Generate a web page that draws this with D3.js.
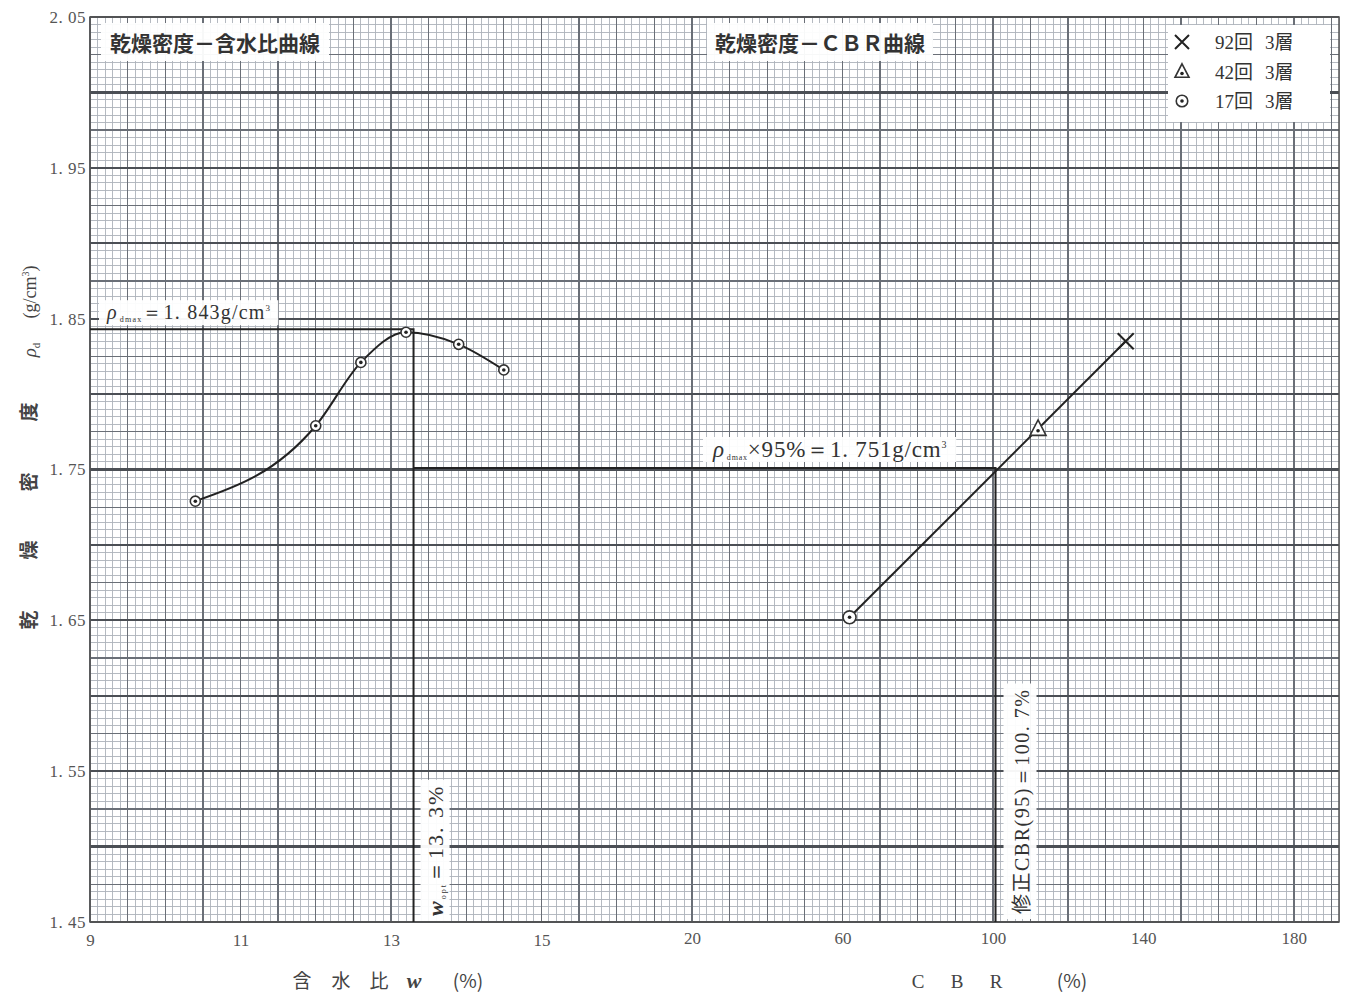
<!DOCTYPE html>
<html>
<head>
<meta charset="utf-8">
<script src="https://cdn.jsdelivr.net/npm/d3@7"></script>
<style>
    body { margin: 0; background: #fff; }
    svg { display: block; }
</style>
</head>
<body>
<svg id="chart" width="1348" height="993"></svg>
<script>
// compaction test: dry density vs water content
const waterContent = [10.4, 12.0, 12.6, 13.2, 13.9, 14.5];
const dryDensity = [1.729, 1.779, 1.821, 1.841, 1.833, 1.816];

// CBR test, one specimen for each compaction effort
const cbrSpecimens = ['92回 3層', '42回 3層', '17回 3層'];
const cbrMarkers = ['cross', 'triangle', 'circle'];
const cbrValues = [135.3, 112.0, 61.9];
const cbrDensity = [1.835, 1.777, 1.652];

// results
const rhoMax = 1.843;
const wOpt = 13.3;
const rho95 = 1.751;
const cbr95 = 100.7;

// tick labels
const yTicks = [1.45, 1.55, 1.65, 1.75, 1.85, 1.95, 2.05];
const wTicks = [9, 11, 13, 15];
const cbrTicks = [20, 60, 100, 140, 180];

const CJK = '"Noto Sans CJK JP", sans-serif';
const SERIF = '"Liberation Serif", "DejaVu Serif", serif';
const INK = '#222';

const margin = {top: 17, right: 9, bottom: 71, left: 90};
const svg = d3.select('#chart');
const width = +svg.attr('width') - margin.left - margin.right;
const height = +svg.attr('height') - margin.top - margin.bottom;

const ctx = svg.append('g')
    .attr('transform', 'translate(' + margin.left + ',' + margin.top + ')');

// one sheet of graph paper, water content and CBR share it
const x = d3.scaleLinear().domain([9, 25.6]).range([0, width]);
const y = d3.scaleLinear().domain([1.45, 2.05]).range([height, 0]);
const cbr = d3.scaleLinear().domain([20, 180]).range([x(17), x(25)]);

// graph paper grid: 1 mm lines, 5 mm lines, heavy lines every 0.05
const vLines = d3.range(0, 167).map(i => ({v: 9 + i * 0.1, k: i % 5 === 0 ? 'mid' : 'fine'}));
const hLines = d3.range(0, 121).map(i => ({v: 1.45 + i * 0.005, k: i % 10 === 0 ? 'heavy' : (i % 5 === 0 ? 'mid' : 'fine')}));
const gridStyle = {
    fine: {stroke: '#adb2ba', w: 0.9},
    mid: {stroke: '#6a6f77', w: 1.3},
    heavy: {stroke: '#4b4f55', w: 2.2}
};

['fine', 'mid', 'heavy'].forEach(k => {
    const vs = vLines.filter(d => d.k === k && x(d.v) <= width);
    const hs = hLines.filter(d => d.k === k);
    const g = ctx.append('g').attr('class', 'grid ' + k);
    g.selectAll('line.v').data(vs).join('line')
        .attr('class', 'v')
        .attr('x1', d => x(d.v)).attr('x2', d => x(d.v))
        .attr('y1', 0).attr('y2', height);
    g.selectAll('line.h').data(hs).join('line')
        .attr('class', 'h')
        .attr('x1', 0).attr('x2', width)
        .attr('y1', d => y(d.v)).attr('y2', d => y(d.v));
    g.selectAll('line')
        .attr('stroke', gridStyle[k].stroke)
        .attr('stroke-width', gridStyle[k].w)
        .attr('shape-rendering', 'crispEdges');
});

ctx.append('rect')
    .attr('width', width).attr('height', height)
    .attr('fill', 'none').attr('stroke', '#555').attr('stroke-width', 1.5);

// axes (labels only, the paper is the grid)
const yAxis = d3.axisLeft(y).tickValues(yTicks).tickSize(0).tickPadding(4)
    .tickFormat(d => d3.format('.2f')(d).replace('.', '. '));
ctx.append('g').attr('class', 'y axis').call(yAxis);

const wAxis = d3.axisBottom(x).tickValues(wTicks).tickSize(0).tickPadding(12);
ctx.append('g').attr('class', 'x axis')
    .attr('transform', 'translate(0,' + height + ')').call(wAxis);

const cAxis = d3.axisBottom(cbr).tickValues(cbrTicks).tickSize(0).tickPadding(10);
ctx.append('g').attr('class', 'x axis')
    .attr('transform', 'translate(0,' + height + ')').call(cAxis);

ctx.selectAll('.axis .domain').remove();
ctx.selectAll('.axis text')
    .attr('font-family', SERIF).attr('font-size', 17).attr('fill', '#555');
ctx.selectAll('.y.axis text').attr('letter-spacing', 0.5);

// helper: white label box behind a text node (same coordinate system)
function boxed(textSel, padX, padY) {
    const b = textSel.node().getBBox();
    textSel.node().parentNode.insertBefore(
        d3.create('svg:rect')
            .attr('x', b.x - padX).attr('y', b.y - padY)
            .attr('width', b.width + padX * 2).attr('height', b.height + padY * 2)
            .attr('fill', '#fff').attr('fill-opacity', 0.95)
            .node(),
        textSel.node());
}

// markers
function marker(g, type, cx, cy, s) {
    if (type === 'cross') {
        g.append('path')
            .attr('d', `M${cx - s},${cy - s}L${cx + s},${cy + s}M${cx - s},${cy + s}L${cx + s},${cy - s}`)
            .attr('stroke', INK).attr('stroke-width', 2).attr('fill', 'none');
    } else if (type === 'triangle') {
        const h = s * 1.1;
        g.append('path')
            .attr('d', `M${cx},${cy - h}L${cx + s},${cy + h * 0.75}L${cx - s},${cy + h * 0.75}Z`)
            .attr('fill', '#fff').attr('stroke', '#333').attr('stroke-width', 1.6);
        g.append('circle').attr('cx', cx).attr('cy', cy + 2).attr('r', 1.8).attr('fill', INK);
    } else {
        g.append('circle').attr('cx', cx).attr('cy', cy).attr('r', s * 0.72)
            .attr('fill', '#fff').attr('stroke', '#333').attr('stroke-width', 1.6);
        g.append('circle').attr('cx', cx).attr('cy', cy).attr('r', 1.8).attr('fill', INK);
    }
}

// reference lines: rho_dmax / w_opt, then 95 % density to CBR
ctx.append('path')
    .attr('d', `M0,${y(rhoMax)}H${x(wOpt)}V${height}`)
    .attr('fill', 'none').attr('stroke', INK).attr('stroke-width', 2);
ctx.append('path')
    .attr('d', `M${x(wOpt)},${y(rho95)}H${cbr(cbr95)}V${height}`)
    .attr('fill', 'none').attr('stroke', INK).attr('stroke-width', 2);

// compaction curve
const pts = waterContent.map((w, i) => [w, dryDensity[i]]);
const curve = d3.line()
    .x(d => x(d[0])).y(d => y(d[1]))
    .curve(d3.curveMonotoneX);
ctx.append('path').attr('d', curve(pts))
    .attr('fill', 'none').attr('stroke', INK).attr('stroke-width', 2);
const mk = ctx.append('g');
pts.forEach(d => marker(mk, 'circle', x(d[0]), y(d[1]), 7));

// density - CBR line through the three specimens
const cbrPts = cbrValues.map((c, i) => ({c: c, r: cbrDensity[i], m: cbrMarkers[i]}))
    .sort((a, b) => a.c - b.c);
ctx.append('path')
    .attr('d', d3.line().x(d => cbr(d.c)).y(d => y(d.r))([cbrPts[0], cbrPts[cbrPts.length - 1]]))
    .attr('fill', 'none').attr('stroke', INK).attr('stroke-width', 2);
const mk2 = ctx.append('g');
cbrPts.forEach(d => marker(mk2, d.m, cbr(d.c), y(d.r), d.m === 'circle' ? 9 : 8));

// annotations
const ann = ctx.append('g');

const t1 = ann.append('text')
    .attr('x', 125).attr('y', 34).attr('text-anchor', 'middle')
    .attr('font-family', CJK).attr('font-size', 21).attr('font-weight', 'bold').attr('fill', '#333')
    .text('乾燥密度－含水比曲線');
boxed(t1, 9, 4);

const t2 = ann.append('text')
    .attr('x', 730).attr('y', 34).attr('text-anchor', 'middle')
    .attr('font-family', CJK).attr('font-size', 21).attr('font-weight', 'bold').attr('fill', '#333')
    .text('乾燥密度－ＣＢＲ曲線');
boxed(t2, 8, 4);

const t3 = ann.append('text')
    .attr('x', 17).attr('y', y(rhoMax) - 10)
    .attr('font-family', SERIF).attr('font-size', 20).attr('letter-spacing', 1.2).attr('fill', '#333');
t3.append('tspan').attr('font-style', 'italic').text('ρ');
t3.append('tspan').attr('font-size', 8).attr('dy', 3).attr('dx', 2).text('dmax');
t3.append('tspan').attr('dy', -3).text('＝1. 843g/cm');
t3.append('tspan').attr('font-size', 9).attr('dy', -8).text('3');
boxed(t3, 7, 1);

const t4 = ann.append('text')
    .attr('x', 623).attr('y', y(rho95) - 11)
    .attr('font-family', SERIF).attr('font-size', 23).attr('letter-spacing', 0.8).attr('fill', '#333');
t4.append('tspan').attr('font-style', 'italic').text('ρ');
t4.append('tspan').attr('font-size', 8).attr('dy', 3).attr('dx', 2).text('dmax');
t4.append('tspan').attr('dy', -3).text('×95%＝1. 751g/cm');
t4.append('tspan').attr('font-size', 10).attr('dy', -9).text('3');
boxed(t4, 9, 0);

// vertical labels, reading bottom to top
const g5 = ann.append('g')
    .attr('transform', `translate(${x(wOpt) + 29},${height - 6}) rotate(-90)`);
const t5 = g5.append('text')
    .attr('font-family', SERIF).attr('font-size', 22).attr('letter-spacing', 2).attr('fill', '#333');
t5.append('tspan').attr('font-style', 'italic').attr('font-weight', 'bold').text('w');
t5.append('tspan').attr('font-size', 8).attr('dy', 3).text('opt');
t5.append('tspan').attr('dy', -3).text('＝13. 3%');
boxed(t5, 5, 2);

const g6 = ann.append('g')
    .attr('transform', `translate(${cbr(cbr95) + 33},${height - 8}) rotate(-90)`);
const t6 = g6.append('text')
    .attr('font-family', SERIF).attr('font-size', 20).attr('letter-spacing', 1.5).attr('fill', '#333');
t6.append('tspan').attr('font-family', CJK).text('修正');
t6.append('tspan').text('CBR(95)＝100. 7%');
boxed(t6, 5, 2);

// legend
const legend = ctx.append('g').attr('transform', 'translate(1078,8)');
legend.append('rect').attr('width', 162).attr('height', 97).attr('fill', '#fff');
cbrSpecimens.forEach((name, i) => {
    const cy = 17 + i * 29.5;
    marker(legend, cbrMarkers[i], 14, cy, cbrMarkers[i] === 'circle' ? 8 : 7);
    const parts = name.split(' ');
    const t = legend.append('text').attr('x', 47).attr('y', cy + 7)
        .attr('font-size', 19).attr('fill', '#333');
    t.append('tspan').attr('font-family', SERIF).text(parts[0].slice(0, -1));
    t.append('tspan').attr('font-family', CJK).text(parts[0].slice(-1));
    t.append('tspan').attr('font-family', SERIF).attr('dx', 12).text(parts[1].slice(0, -1));
    t.append('tspan').attr('font-family', CJK).text(parts[1].slice(-1));
});

// axis titles
const xt = svg.append('text').attr('y', 988)
    .attr('font-family', CJK).attr('font-size', 19).attr('fill', '#444');
xt.append('tspan').attr('x', 302).attr('text-anchor', 'middle').text('含');
xt.append('tspan').attr('x', 341).attr('text-anchor', 'middle').text('水');
xt.append('tspan').attr('x', 379).attr('text-anchor', 'middle').text('比');
xt.append('tspan').attr('x', 414).attr('text-anchor', 'middle')
    .attr('font-family', SERIF).attr('font-style', 'italic').attr('font-weight', 'bold').attr('font-size', 22).text('w');
xt.append('tspan').attr('x', 468).attr('text-anchor', 'middle').text('(%)');

const ct = svg.append('text').attr('y', 988)
    .attr('font-family', SERIF).attr('font-size', 19).attr('fill', '#444');
ct.append('tspan').attr('x', 918).attr('text-anchor', 'middle').text('C');
ct.append('tspan').attr('x', 957).attr('text-anchor', 'middle').text('B');
ct.append('tspan').attr('x', 996).attr('text-anchor', 'middle').text('R');
ct.append('tspan').attr('x', 1072).attr('text-anchor', 'middle').attr('font-family', CJK).text('(%)');

// y title, each piece turned on its side
const yTitle = [
    {t: '乾', y: 620}, {t: '燥', y: 550}, {t: '密', y: 482}, {t: '度', y: 412}
];
yTitle.forEach(d => {
    svg.append('text')
        .attr('transform', `translate(36,${d.y}) rotate(-90)`)
        .attr('text-anchor', 'middle')
        .attr('font-family', CJK).attr('font-size', 19).attr('font-weight', 'bold').attr('fill', '#444')
        .text(d.t);
});
const rho = svg.append('text')
    .attr('transform', 'translate(36,350) rotate(-90)')
    .attr('text-anchor', 'middle')
    .attr('font-family', SERIF).attr('font-size', 19).attr('fill', '#444');
rho.append('tspan').attr('font-style', 'italic').text('ρ');
rho.append('tspan').attr('font-size', 11).attr('dy', 4).text('d');
const unit = svg.append('text')
    .attr('transform', 'translate(36,292) rotate(-90)')
    .attr('text-anchor', 'middle')
    .attr('font-family', SERIF).attr('font-size', 18).attr('fill', '#444');
unit.append('tspan').text('(g/cm');
unit.append('tspan').attr('font-size', 10).attr('dy', -7).text('3');
unit.append('tspan').attr('dy', 7).text(')');
</script>
</body>
</html>
